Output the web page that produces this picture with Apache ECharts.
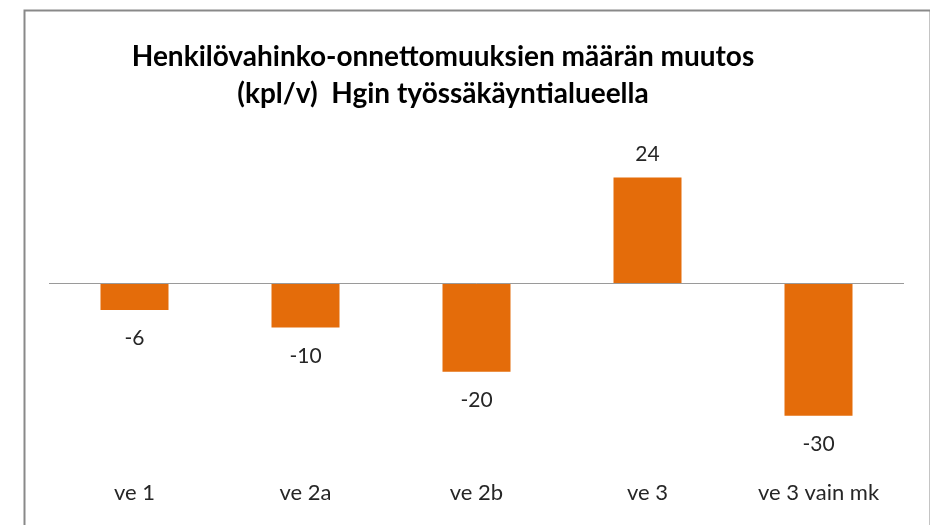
<!DOCTYPE html>
<html><head><meta charset="utf-8">
<script src="https://cdn.jsdelivr.net/npm/echarts@6/dist/echarts.min.js"></script>
<style>html,body{margin:0;padding:0;background:#fff}#c{width:930px;height:525px}</style>
</head><body><div id="c"></div>
<script>
const titleLines = ['Henkilövahinko-onnettomuuksien määrän muutos', '(kpl/v)  Hgin työssäkäyntialueella'];
const categories = ['ve 1', 've 2a', 've 2b', 've 3', 've 3 vain mk'];
const values = [-6, -10, -20, 24, -30];

const FONT = 'Lato, "Open Sans", sans-serif';
const chart = echarts.init(document.getElementById('c'), null, {renderer: 'canvas'});
chart.setOption({
  animation: false,
  title: {
    text: titleLines.join('\n'),
    left: 438, top: 33, textAlign: 'center',
    textStyle: {fontFamily: FONT, fontWeight: 'bold', fontSize: 28, color: '#000', lineHeight: 37}
  },
  graphic: [{
    type: 'rect', left: 22, top: 8, shape: {width: 906, height: 540},
    style: {fill: 'none', stroke: '#898989', lineWidth: 2}
  }],
  grid: {left: 49, right: 26, top: 151, bottom: 65},
  xAxis: {
    type: 'category', data: categories,
    axisLine: {show: false}, axisTick: {show: false},
    axisLabel: {fontFamily: FONT, fontSize: 22, color: '#262626', margin: 22}
  },
  yAxis: {
    type: 'value', min: -40, max: 30, interval: 10,
    axisLine: {show: false}, axisTick: {show: false}, axisLabel: {show: false}, splitLine: {show: false}
  },
  series: [{
    type: 'bar', barWidth: 68,
    data: values.map(v => ({
      value: v,
      label: {show: true, position: v >= 0 ? 'top' : 'bottom', distance: v >= 0 ? 13 : 18,
        fontFamily: FONT, fontSize: 21, color: '#262626'}
    })),
    itemStyle: {color: '#E46C0A'},
    markLine: {
      silent: true, symbol: 'none', label: {show: false},
      lineStyle: {color: '#9a9a9a', width: 1, type: 'solid'},
      data: [{yAxis: 0}]
    },
    z: 3
  }]
});
</script></body></html>
